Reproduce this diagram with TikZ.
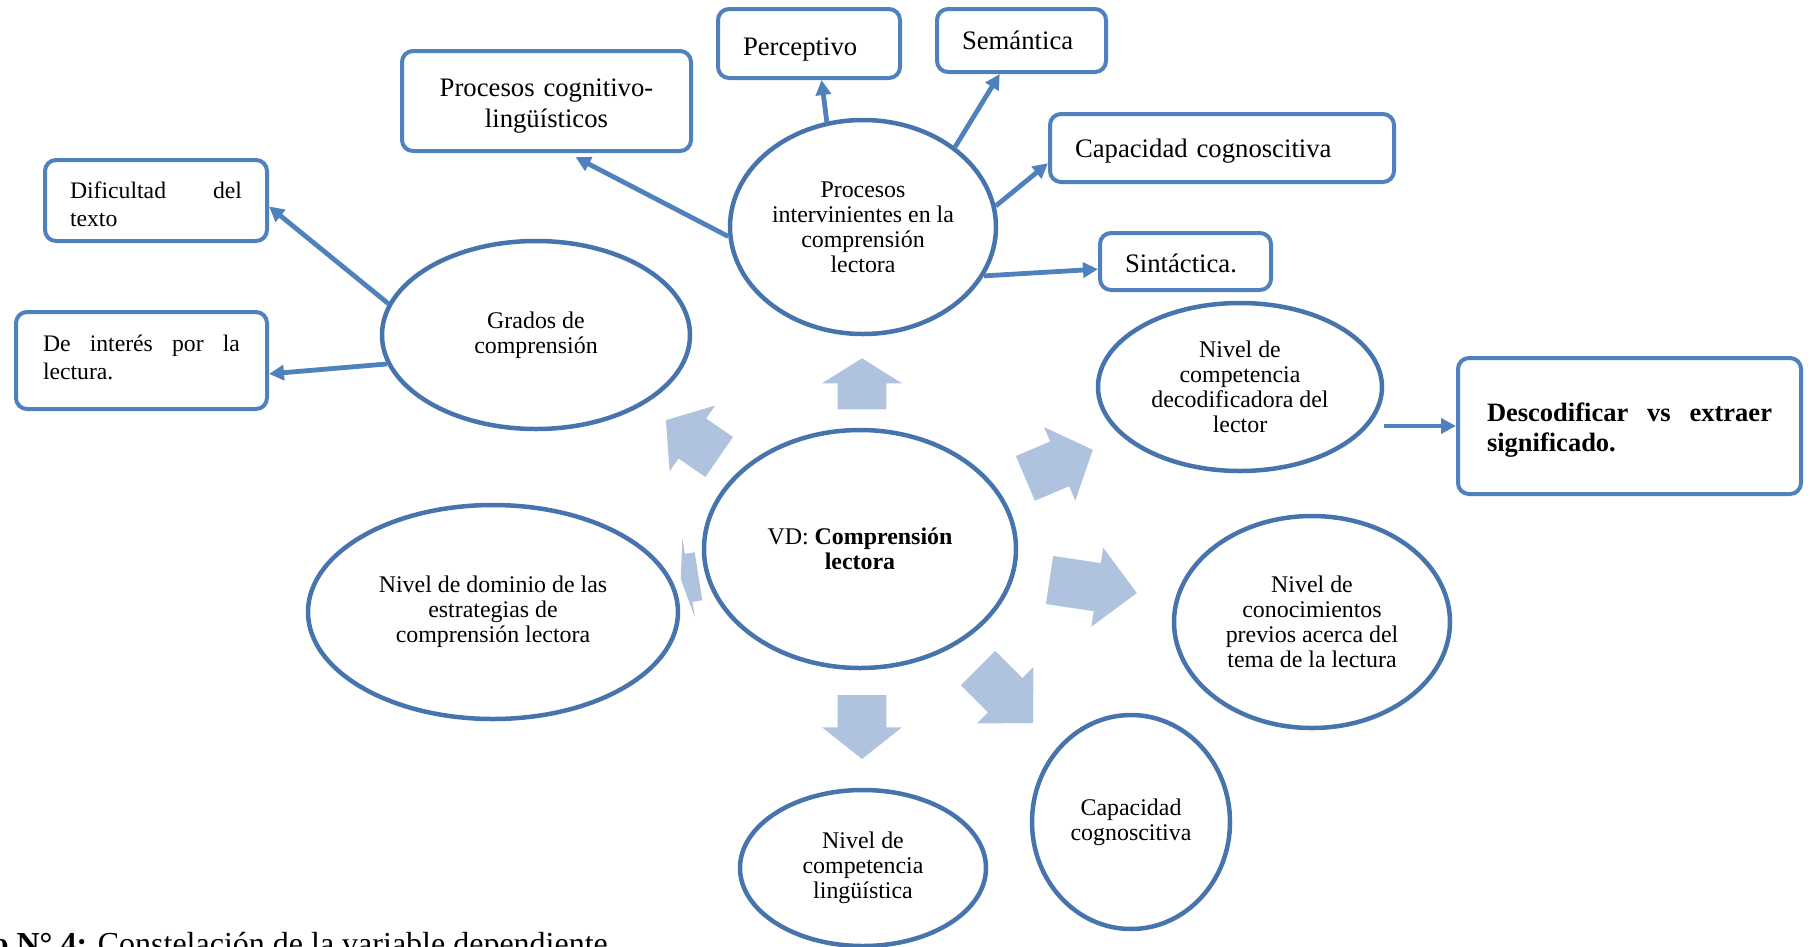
\documentclass[tikz,border=0pt]{standalone}
\usepackage{fontspec}
\setmainfont{Liberation Serif}
\usetikzlibrary{shapes.geometric,arrows.meta}
\definecolor{ellblue}{RGB}{71,116,173}
\definecolor{boxblue}{RGB}{79,129,189}
\definecolor{blkblue}{RGB}{176,195,222}
\tikzset{
 ell/.style={ellipse, draw=ellblue, line width=4.5pt, fill=white, inner sep=0pt, align=center, font=\fontsize{23.9}{25}\selectfont},
 bx/.style={rectangle, rounded corners=11pt, draw=boxblue, line width=4pt, fill=white, inner xsep=25pt, inner ysep=0pt, align=left, font=\fontsize{26.7}{31}\selectfont},
 jbx/.style={bx, font=\fontsize{23.7}{28}\selectfont},
 tdown/.style={execute at begin node={\rule{0pt}{#1}}},
 conn/.style={draw=boxblue, line width=4.8pt, -{Triangle[length=15pt,width=15pt]}},
 blk/.style={fill=blkblue},
}
\newcommand{\blockarrow}[5]{%
 \fill[blk, shift={(#1,#2)}, rotate=#3] (0,-24.3) -- (#4,-24.3) -- (#4,-40) -- ({#4+#5},0) -- (#4,40) -- (#4,24.3) -- (0,24.3) -- cycle;}
\newcommand{\jpar}[2]{\parbox{#1}{\hyphenpenalty=10000\relax #2}}
\begin{document}
\begin{tikzpicture}[x=1pt,y=-1pt]
\useasboundingbox (0,0) rectangle (1810,946);
\clip (0,0) rectangle (1810,946);
% block arrows around the centre
\blockarrow{862}{409.3}{90}{26}{25}
\blockarrow{862}{695}{-90}{32.3}{31.7}
\blockarrow{719.2}{457}{145.4}{32.6}{32.2}
\blockarrow{1025.4}{478.4}{23}{37.2}{36}
\blockarrow{1049.5}{580}{-8.5}{48.3}{40}
\blockarrow{978}{668}{-45}{38.4}{39.4}
\blockarrow{698.5}{576.3}{189}{10}{8}
% ellipses
\node[ell, minimum width=266pt, minimum height=214pt] (A) at (863,227) {Procesos\\intervinientes en la\\comprensión\\lectora};
\node[ell, minimum width=308pt, minimum height=188pt] (B) at (536,335) {Grados de\\comprensión};
\node[ell, minimum width=312pt, minimum height=238pt] (C) at (860,549) {VD: \textbf{Comprensión}\\\textbf{lectora}};
\node[ell, minimum width=370pt, minimum height=214pt] (D) at (493,612) {Nivel de dominio de las\\estrategias de\\comprensión lectora};
\node[ell, minimum width=284pt, minimum height=168pt] (E) at (1240,387) {Nivel de\\competencia\\decodificadora del\\lector};
\node[ell, minimum width=276pt, minimum height=212pt] (F) at (1312,622) {Nivel de\\conocimientos\\previos acerca del\\tema de la lectura};
\node[ell, minimum width=198pt, minimum height=214pt] (G) at (1131,822) {Capacidad\\cognoscitiva};
\node[ell, minimum width=246pt, minimum height=156pt] (H) at (863,868) {Nivel de\\competencia\\lingüística};
% boxes
\node[bx, align=center, text width=239pt, minimum height=100pt, tdown=27pt] (pcl) at (546.5,101) {Procesos cognitivo-\\lingüísticos};
\node[bx, text width=132pt, minimum height=69pt, tdown=29pt] (perc) at (809,43.5) {Perceptivo};
\node[bx, text width=119pt, minimum height=63pt] (sem) at (1021.5,40.5) {Semántica};
\node[bx, text width=294pt, minimum height=68pt, tdown=25pt] (capb) at (1222,148) {Capacidad cognoscitiva};
\node[bx, text width=121pt, minimum height=57pt, tdown=23pt] (sint) at (1185.5,261.5) {Sintáctica.};
\node[jbx, minimum height=81pt] (dif) at (156,200.5) {\jpar{172pt}{\rule{0pt}{24pt}Dificultad del texto}};
\node[jbx, inner xsep=27pt, minimum height=97pt] (dei) at (141.5,360.5) {\jpar{197pt}{De interés por la lectura.\rule[-7pt]{0pt}{0pt}}};
\node[bx, inner xsep=29pt, minimum height=136pt, font=\fontsize{26.5}{30}\selectfont\bfseries] (desc) at (1629.5,426) {\jpar{285pt}{\rule{0pt}{27pt}Descodificar vs extraer significado.}};
% connectors
\draw[conn, shorten >=9pt] (A.184) -- (pcl.-68);
\draw[conn] (A.109) -- (perc.-71);
\draw[conn] (A.41) -- (sem.-123);
\draw[conn] (A.9) -- (capb.185);
\draw[conn] (A.-22) -- (sint.185);
\draw[conn] (B.168) -- (dif.-3);
\draw[conn] (B.191) -- (dei.-6);
\draw[conn] (E.east |- desc.west) -- (desc.west);
% caption (cut at the bottom edge)
\node[anchor=base west, inner sep=0pt, font=\fontsize{32}{38}\selectfont] (cap) at (-7.6,954) {\textbf{o N° 4:} Constelación de la variable dependiente};
\end{tikzpicture}
\end{document}
